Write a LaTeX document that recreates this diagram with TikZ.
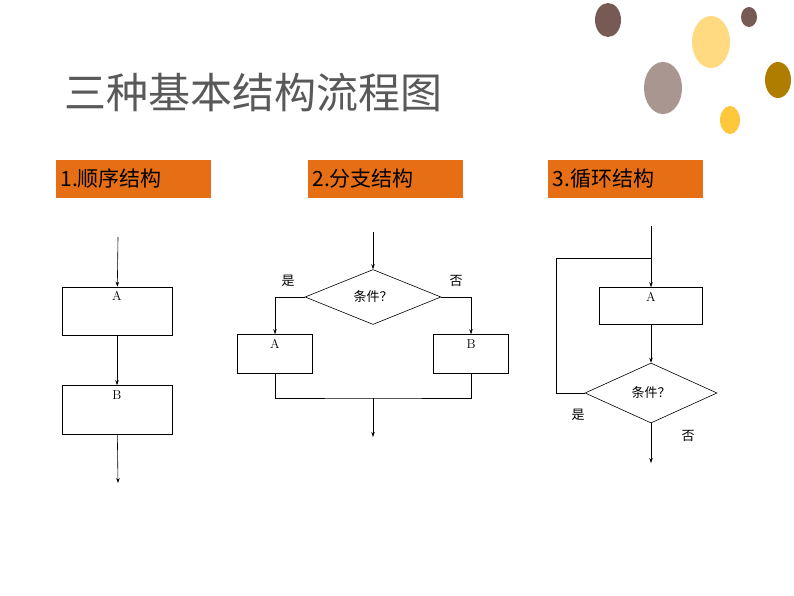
\documentclass[tikz,border=0pt]{standalone}
\usepackage{fontspec}
\newfontfamily\cjk{Noto Sans CJK SC}
\usetikzlibrary{shapes.geometric,arrows.meta}
\definecolor{dotdark}{RGB}{120,90,85}
\definecolor{dotlight}{RGB}{255,218,128}
\definecolor{dotgray}{RGB}{170,150,145}
\definecolor{dotgold}{RGB}{175,125,0}
\definecolor{dotyellow}{RGB}{255,200,60}
\definecolor{headorange}{RGB}{230,110,20}
\tikzset{
  box/.style={draw,minimum width=#1,inner sep=0pt,font=\rmfamily\fontsize{13}{15}\selectfont},
  cond/.style={draw,diamond,aspect=2.45,inner sep=0pt,font=\cjk\fontsize{13}{15}\selectfont},
  head/.style={fill=headorange,minimum width=155pt,minimum height=37pt,
    font=\cjk\fontsize{21}{24}\selectfont,inner sep=0pt,text width=145pt},
  flow/.style={-{Stealth[length=5pt,width=3.5pt]}},
  lbl/.style={font=\cjk\fontsize{13}{15}\selectfont},
  every path/.style={line width=0.6pt}
}
\begin{document}
\begin{tikzpicture}[x=1pt,y=-1pt]
  \useasboundingbox (0,0) rectangle (794,596);

  % decorative dots
  \fill[dotdark]   (608,20)  ellipse [x radius=13,y radius=17];
  \fill[dotlight]  (711,42)  ellipse [x radius=19,y radius=26];
  \fill[dotgray]   (663,88)  ellipse [x radius=19,y radius=26];
  \fill[dotdark]   (749,17)  ellipse [x radius=8,y radius=10];
  \fill[dotgold]   (778,80)  ellipse [x radius=13,y radius=18];
  \fill[dotyellow] (730,120) ellipse [x radius=10,y radius=14];

  % title and headers
  \node[font=\cjk\fontsize{42}{48}\selectfont,text=black!65,anchor=west,inner sep=0pt] (title) at (64,93) {三种基本结构流程图};
  \node[head] (h1) at (133,179) {1.顺序结构};
  \node[head] (h2) at (385,179) {2.分支结构};
  \node[head] (h3) at (625,179) {3.循环结构};

  % sequence
  \coordinate (s0) at (118,237);
  \node[box=110pt,minimum height=48pt,text depth=30pt] (sa) at (117,311) {A};
  \node[box=110pt,minimum height=49pt,text depth=30pt] (sb) at (117,410) {B};
  \coordinate (s1) at (118,483);
  \draw[flow] (s0) -- (sa);
  \draw[flow] (sa) -- (sb);
  \draw[flow] (sb) -- (s1);

  % branch
  \coordinate (b0) at (373,232);
  \node[cond,minimum width=136pt,minimum height=55pt] (bc) at (373,297) {条件？};
  \node[box=75pt,minimum height=39pt,text depth=20pt] (ba) at (275,354) {A};
  \node[box=75pt,minimum height=39pt,text depth=20pt] (bb) at (471,354) {B};
  \coordinate (bj) at (373,398);
  \coordinate (b1) at (373,437);
  \draw[flow] (b0) -- (bc);
  \draw[flow] (bc.west) -| (ba.north);
  \draw[flow] (bc.east) -| (bb.north);
  \draw (ba.south) |- (bj) -| (bb.south);
  \draw[flow] (bj) -- (b1);
  \node[lbl] (yes1) at (288,281) {是};
  \node[lbl] (no1) at (456,281) {否};

  % loop
  \coordinate (l0) at (651,226);
  \coordinate (lk) at (651,258);
  \node[box=103pt,minimum height=37pt,text depth=18pt] (la) at (651,306) {A};
  \node[cond,minimum width=132pt,minimum height=60pt] (lc) at (651,393) {条件？};
  \coordinate (l1) at (651,463);
  \draw[flow] (l0) -- (la);
  \draw[flow] (la) -- (lc);
  \draw (lc.west) -- (556,393) |- (lk);
  \draw[flow] (lc) -- (l1);
  \node[lbl] (yes2) at (578,415) {是};
  \node[lbl] (no2) at (688,436) {否};
\end{tikzpicture}
\end{document}
